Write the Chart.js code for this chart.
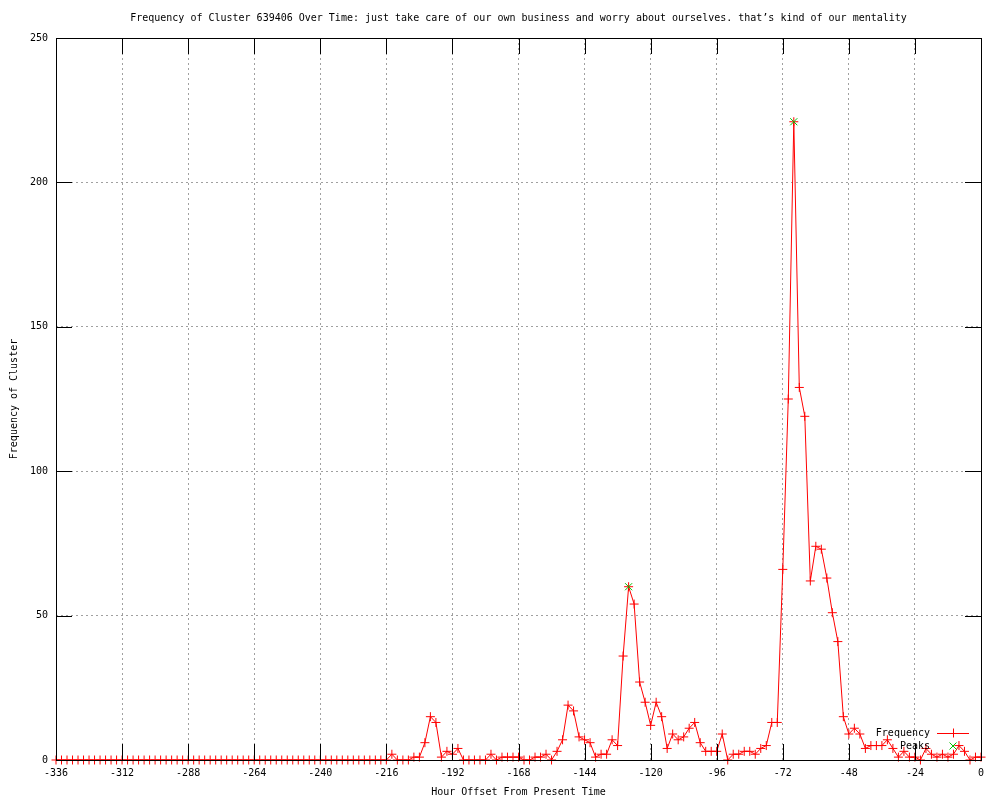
<!DOCTYPE html>
<html>
<head>
<meta charset="utf-8">
<script src="https://cdn.jsdelivr.net/npm/chart.js@4/dist/chart.umd.min.js"></script>
<style>
html,body{margin:0;padding:0;background:#fff;}
#wrap{width:1000px;height:800px;}
</style>
</head>
<body>
<div id="wrap"><canvas id="c" width="1000" height="800"></canvas></div>
<script>
const titleText = "Frequency of Cluster 639406 Over Time: just take care of our own business and worry about ourselves. that\u2019s kind of our mentality";
const xAxisTitle = "Hour Offset From Present Time";
const yAxisTitle = "Frequency of Cluster";

const hours = [
  -336,-334,-332,-330,-328,-326,-324,-322,-320,-318,
  -316,-314,-312,-310,-308,-306,-304,-302,-300,-298,
  -296,-294,-292,-290,-288,-286,-284,-282,-280,-278,
  -276,-274,-272,-270,-268,-266,-264,-262,-260,-258,
  -256,-254,-252,-250,-248,-246,-244,-242,-240,-238,
  -236,-234,-232,-230,-228,-226,-224,-222,-220,-218,
  -216,-214,-212,-210,-208,-206,-204,-202,-200,-198,
  -196,-194,-192,-190,-188,-186,-184,-182,-180,-178,
  -176,-174,-172,-170,-168,-166,-164,-162,-160,-158,
  -156,-154,-152,-150,-148,-146,-144,-142,-140,-138,
  -136,-134,-132,-130,-128,-126,-124,-122,-120,-118,
  -116,-114,-112,-110,-108,-106,-104,-102,-100,-98,
  -96,-94,-92,-90,-88,-86,-84,-82,-80,-78,
  -76,-74,-72,-70,-68,-66,-64,-62,-60,-58,
  -56,-54,-52,-50,-48,-46,-44,-42,-40,-38,
  -36,-34,-32,-30,-28,-26,-24,-22,-20,-18,
  -16,-14,-12,-10,-8,-6,-4,-2,0
];

const frequency = [
  0,0,0,0,0,0,0,0,0,0,
  0,0,0,0,0,0,0,0,0,0,
  0,0,0,0,0,0,0,0,0,0,
  0,0,0,0,0,0,0,0,0,0,
  0,0,0,0,0,0,0,0,0,0,
  0,0,0,0,0,0,0,0,0,0,
  0,2,0,0,0,1,1,6,15,13,
  1,3,2,4,0,0,0,0,0,2,
  0,1,1,1,1,0,0,1,1,2,
  0,3,7,19,17,8,7,6,1,2,
  2,7,5,36,60,54,27,20,12,20,
  15,4,9,7,8,11,13,6,3,3,
  3,9,0,2,2,3,3,2,4,5,
  13,13,66,125,221,129,119,62,74,73,
  63,51,41,15,9,11,9,4,5,5,
  5,7,4,1,3,1,1,0,4,2,
  1,2,1,2,5,3,0,1,1
];

const peakHours = [-128, -68];
const peakValues = [60, 221];

const xTickValues = [-336,-312,-288,-264,-240,-216,-192,-168,-144,-120,-96,-72,-48,-24,0];
const yTickValues = [0,50,100,150,200,250];

const FONT = "'DejaVu Sans Mono', 'Liberation Mono', monospace";
const RED = '#ff0000';
const GREEN = '#00c000';

const boxPlugin = {
  id: 'gnuBox',
  afterDatasetsDraw(chart) {
    const {ctx, chartArea: a, scales} = chart;
    const L = 16;
    ctx.save();
    ctx.strokeStyle = '#000';
    ctx.lineWidth = 1;
    ctx.setLineDash([]);
    ctx.beginPath();
    xTickValues.forEach(v => {
      const px = Math.round(scales.x.getPixelForValue(v)) + 0.5;
      ctx.moveTo(px, a.bottom); ctx.lineTo(px, a.bottom - L);
      ctx.moveTo(px, a.top); ctx.lineTo(px, a.top + L);
    });
    yTickValues.forEach(v => {
      const py = Math.round(scales.y.getPixelForValue(v)) + 0.5;
      ctx.moveTo(a.left, py); ctx.lineTo(a.left + L, py);
      ctx.moveTo(a.right, py); ctx.lineTo(a.right - L, py);
    });
    ctx.stroke();
    ctx.strokeRect(Math.round(a.left) + 0.5, Math.round(a.top) + 0.5,
                   Math.round(a.right - a.left), Math.round(a.bottom - a.top));
    ctx.restore();
  },
  afterDraw(chart) {
    const {ctx, chartArea: a} = chart;
    const ds = chart.data.datasets;
    ctx.save();
    ctx.setLineDash([]);
    ctx.font = "10px " + FONT;
    ctx.textAlign = 'right';
    ctx.textBaseline = 'middle';
    const textRight = Math.round(a.right - 51);
    const sampleL = Math.round(a.right - 44), sampleR = Math.round(a.right - 12), sampleC = Math.round(a.right - 28);
    const rows = [
      {label: ds[1].label, color: RED, line: true, cross: true},
      {label: ds[0].label, color: GREEN, line: false, cross: false}
    ];
    rows.forEach((d, i) => {
      const y = Math.round(a.bottom - 27 + i * 13);
      ctx.fillStyle = '#000';
      ctx.fillText(d.label, textRight, y);
      ctx.strokeStyle = d.color;
      ctx.lineWidth = 1;
      ctx.beginPath();
      if (d.line) {
        ctx.moveTo(sampleL, y + 0.5); ctx.lineTo(sampleR, y + 0.5);
      }
      if (d.cross) {
        ctx.moveTo(sampleC - 4.5, y + 0.5); ctx.lineTo(sampleC + 4.5, y + 0.5);
        ctx.moveTo(sampleC + 0.5, y - 4.5); ctx.lineTo(sampleC + 0.5, y + 4.5);
      } else {
        ctx.moveTo(sampleC - 3.5, y - 3.5); ctx.lineTo(sampleC + 3.5, y + 3.5);
        ctx.moveTo(sampleC - 3.5, y + 3.5); ctx.lineTo(sampleC + 3.5, y - 3.5);
      }
      ctx.stroke();
    });
    ctx.restore();
  }
};

const freqPoints = hours.map((h, i) => ({x: h, y: frequency[i]}));
const peakPoints = peakHours.map((h, i) => ({x: h, y: peakValues[i]}));

new Chart(document.getElementById('c'), {
  type: 'line',
  data: {
    datasets: [
      {
        label: 'Peaks',
        data: peakPoints,
        showLine: false,
        borderColor: GREEN,
        backgroundColor: GREEN,
        pointStyle: 'crossRot',
        pointRadius: 5,
        pointBorderWidth: 1,
        pointBorderColor: GREEN,
        clip: false,
        order: 0
      },
      {
        label: 'Frequency',
        data: freqPoints,
        borderColor: RED,
        backgroundColor: RED,
        borderWidth: 1,
        tension: 0,
        pointStyle: 'cross',
        pointRadius: 4.5,
        pointBorderWidth: 1,
        pointBorderColor: RED,
        clip: false,
        order: 1
      }
    ]
  },
  options: {
    responsive: false,
    animation: false,
    devicePixelRatio: 1,
    layout: { padding: { left: 0, right: 19, top: 0, bottom: 0 } },
    plugins: {
      legend: { display: false },
      tooltip: { enabled: false },
      title: {
        display: true,
        text: titleText,
        fullSize: false,
        color: '#000',
        font: { family: FONT, size: 10, weight: 'normal', lineHeight: 1.2 },
        padding: { top: 12, bottom: 14 }
      }
    },
    scales: {
      x: {
        type: 'linear',
        min: -336,
        max: 0,
        afterBuildTicks: (s) => { s.ticks = xTickValues.map(v => ({value: v})); },
        afterFit: (s) => { s.height = 40; },
        ticks: {
          color: '#000',
          font: { family: FONT, size: 10 },
          padding: 7,
          maxRotation: 0,
          autoSkip: false
        },
        grid: {
          color: '#a0a0a0',
          lineWidth: 1,
          drawTicks: false
        },
        border: { display: false, dash: [2, 3] },
        title: {
          display: true,
          text: xAxisTitle,
          color: '#000',
          font: { family: FONT, size: 10, lineHeight: 1.2 },
          padding: { top: 0, bottom: 2 }
        }
      },
      y: {
        type: 'linear',
        min: 0,
        max: 250,
        afterBuildTicks: (s) => { s.ticks = yTickValues.map(v => ({value: v})); },
        afterFit: (s) => { s.width = 56; },
        ticks: {
          color: '#000',
          font: { family: FONT, size: 10 },
          padding: 8
        },
        grid: {
          color: '#a0a0a0',
          lineWidth: 1,
          drawTicks: false
        },
        border: { display: false, dash: [2, 3] },
        title: {
          display: true,
          text: yAxisTitle,
          color: '#000',
          font: { family: FONT, size: 10, lineHeight: 1.2 },
          padding: { top: 8, bottom: 0 }
        }
      }
    }
  },
  plugins: [boxPlugin]
});
</script>
</body>
</html>
